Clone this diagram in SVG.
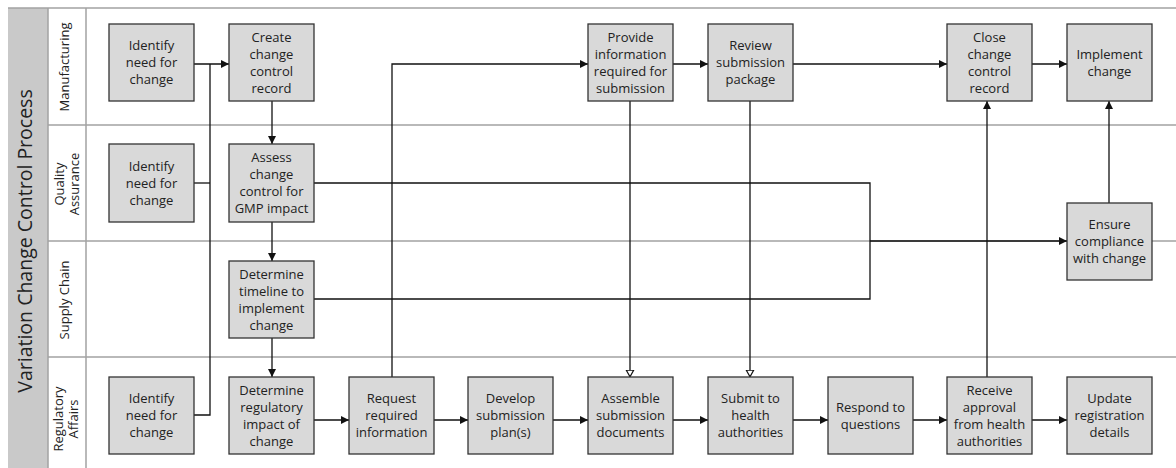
<svg xmlns="http://www.w3.org/2000/svg" width="1176" height="468" viewBox="0 0 1176 468">
<style>
.bg{fill:#ffffff}
.band{fill:#c9c9c9}
.lane{stroke:#a3a3a3;stroke-width:1.5;fill:none}
.n{fill:#d9d9d9;stroke:#333333;stroke-width:1.3}
.t{font-family:"Open Sans","Noto Sans","Liberation Sans",sans-serif;font-size:13px;fill:#222222;text-anchor:middle}
.lt{font-family:"Open Sans","Noto Sans","Liberation Sans",sans-serif;font-size:13px;fill:#222222;text-anchor:middle}
.tt{font-family:"Open Sans","Noto Sans","Liberation Sans",sans-serif;font-size:19.5px;fill:#222222;text-anchor:middle}
.c{stroke:#111111;stroke-width:1.3;fill:none}
.a{marker-end:url(#arr)}
.h{marker-end:url(#hol)}
</style>
<defs>
<marker id="arr" markerUnits="userSpaceOnUse" markerWidth="9" markerHeight="9" refX="8" refY="4.5" orient="auto">
<path d="M0,0.5 L8,4.5 L0,8.5 z" fill="#111111"/>
</marker>
<marker id="hol" markerUnits="userSpaceOnUse" markerWidth="10" markerHeight="10" refX="7.5" refY="4.5" orient="auto">
<path d="M0.7,0.8 L7.3,4.5 L0.7,8.2 z" fill="#ffffff" stroke="#111111" stroke-width="1.2"/>
</marker>
</defs>
<rect class="bg" x="0" y="0" width="1176" height="468"/>
<g id="pool">
<rect class="band" x="8" y="8" width="40" height="460"/>
<text class="tt" transform="translate(32,241) rotate(-90)">Variation Change Control Process</text>
<path class="lane" d="M8,8 H1176 M48,8 V468 M86,8 V468 M48,125 H1176 M48,241 H1176 M48,357 H1176"/>
</g>
<g id="lane-labels">
<text class="lt" transform="translate(69,67) rotate(-90)">Manufacturing</text>
<text class="lt" transform="translate(64,184) rotate(-90)">Quality</text>
<text class="lt" transform="translate(79,184) rotate(-90)">Assurance</text>
<text class="lt" transform="translate(69,300) rotate(-90)">Supply Chain</text>
<text class="lt" transform="translate(63,419) rotate(-90)">Regulatory</text>
<text class="lt" transform="translate(78,419) rotate(-90)">Affairs</text>
</g>
<g id="connectors">
<path class="c a" d="M194,64 H229"/>
<path class="c" d="M194,183 H210"/>
<path class="c" d="M194,415 H210 V64"/>
<path class="c a" d="M272,101 V144"/>
<path class="c a" d="M272,222 V261"/>
<path class="c a" d="M272,338 V377"/>
<path class="c a" d="M314,420 H349"/>
<path class="c a" d="M392,377 V64 H588"/>
<path class="c a" d="M673,64 H708"/>
<path class="c a" d="M793,64 H947"/>
<path class="c a" d="M1032,64 H1067"/>
<path class="c h" d="M630,101 V377"/>
<path class="c h" d="M750,101 V377"/>
<path class="c" d="M314,183 H870 V299 H314"/>
<path class="c a" d="M870,241 H1067"/>
<path class="c a" d="M987,377 V101"/>
<path class="c a" d="M1109,203 V101"/>
<path class="c a" d="M434,420 H468"/>
<path class="c a" d="M553,420 H588"/>
<path class="c a" d="M673,420 H708"/>
<path class="c a" d="M793,420 H828"/>
<path class="c a" d="M912,420 H947"/>
<path class="c a" d="M1032,420 H1067"/>
</g>
<g id="mfg-identify">
<rect class="n" x="109" y="24" width="85" height="77"/>
<text class="t" x="151.5" y="50"><tspan x="151.5">Identify</tspan><tspan x="151.5" dy="17">need for</tspan><tspan x="151.5" dy="17">change</tspan></text>
</g>
<g id="mfg-create">
<rect class="n" x="229" y="24" width="85" height="77"/>
<text class="t" x="271.5" y="41.5"><tspan x="271.5">Create</tspan><tspan x="271.5" dy="17">change</tspan><tspan x="271.5" dy="17">control</tspan><tspan x="271.5" dy="17">record</tspan></text>
</g>
<g id="mfg-provide">
<rect class="n" x="588" y="24" width="85" height="77"/>
<text class="t" x="630.5" y="41.5"><tspan x="630.5">Provide</tspan><tspan x="630.5" dy="17">information</tspan><tspan x="630.5" dy="17">required for</tspan><tspan x="630.5" dy="17">submission</tspan></text>
</g>
<g id="mfg-review">
<rect class="n" x="708" y="24" width="85" height="77"/>
<text class="t" x="750.5" y="50"><tspan x="750.5">Review</tspan><tspan x="750.5" dy="17">submission</tspan><tspan x="750.5" dy="17">package</tspan></text>
</g>
<g id="mfg-close">
<rect class="n" x="947" y="24" width="85" height="77"/>
<text class="t" x="989.5" y="41.5"><tspan x="989.5">Close</tspan><tspan x="989.5" dy="17">change</tspan><tspan x="989.5" dy="17">control</tspan><tspan x="989.5" dy="17">record</tspan></text>
</g>
<g id="mfg-implement">
<rect class="n" x="1067" y="24" width="85" height="77"/>
<text class="t" x="1109.5" y="58.5"><tspan x="1109.5">Implement</tspan><tspan x="1109.5" dy="17">change</tspan></text>
</g>
<g id="qa-identify">
<rect class="n" x="109" y="144" width="85" height="78"/>
<text class="t" x="151.5" y="170.5"><tspan x="151.5">Identify</tspan><tspan x="151.5" dy="17">need for</tspan><tspan x="151.5" dy="17">change</tspan></text>
</g>
<g id="qa-assess">
<rect class="n" x="229" y="144" width="85" height="78"/>
<text class="t" x="271.5" y="162"><tspan x="271.5">Assess</tspan><tspan x="271.5" dy="17">change</tspan><tspan x="271.5" dy="17">control for</tspan><tspan x="271.5" dy="17">GMP impact</tspan></text>
</g>
<g id="qa-ensure">
<rect class="n" x="1067" y="203" width="85" height="77"/>
<text class="t" x="1109.5" y="229"><tspan x="1109.5">Ensure</tspan><tspan x="1109.5" dy="17">compliance</tspan><tspan x="1109.5" dy="17">with change</tspan></text>
</g>
<g id="sc-timeline">
<rect class="n" x="229" y="261" width="85" height="77"/>
<text class="t" x="271.5" y="278.5"><tspan x="271.5">Determine</tspan><tspan x="271.5" dy="17">timeline to</tspan><tspan x="271.5" dy="17">implement</tspan><tspan x="271.5" dy="17">change</tspan></text>
</g>
<g id="ra-identify">
<rect class="n" x="109" y="377" width="85" height="77"/>
<text class="t" x="151.5" y="403"><tspan x="151.5">Identify</tspan><tspan x="151.5" dy="17">need for</tspan><tspan x="151.5" dy="17">change</tspan></text>
</g>
<g id="ra-determine">
<rect class="n" x="229" y="377" width="85" height="77"/>
<text class="t" x="271.5" y="394.5"><tspan x="271.5">Determine</tspan><tspan x="271.5" dy="17">regulatory</tspan><tspan x="271.5" dy="17">impact of</tspan><tspan x="271.5" dy="17">change</tspan></text>
</g>
<g id="ra-request">
<rect class="n" x="349" y="377" width="85" height="77"/>
<text class="t" x="391.5" y="403"><tspan x="391.5">Request</tspan><tspan x="391.5" dy="17">required</tspan><tspan x="391.5" dy="17">information</tspan></text>
</g>
<g id="ra-develop">
<rect class="n" x="468" y="377" width="85" height="77"/>
<text class="t" x="510.5" y="403"><tspan x="510.5">Develop</tspan><tspan x="510.5" dy="17">submission</tspan><tspan x="510.5" dy="17">plan(s)</tspan></text>
</g>
<g id="ra-assemble">
<rect class="n" x="588" y="377" width="85" height="77"/>
<text class="t" x="630.5" y="403"><tspan x="630.5">Assemble</tspan><tspan x="630.5" dy="17">submission</tspan><tspan x="630.5" dy="17">documents</tspan></text>
</g>
<g id="ra-submit">
<rect class="n" x="708" y="377" width="85" height="77"/>
<text class="t" x="750.5" y="403"><tspan x="750.5">Submit to</tspan><tspan x="750.5" dy="17">health</tspan><tspan x="750.5" dy="17">authorities</tspan></text>
</g>
<g id="ra-respond">
<rect class="n" x="828" y="377" width="85" height="77"/>
<text class="t" x="870.5" y="411.5"><tspan x="870.5">Respond to</tspan><tspan x="870.5" dy="17">questions</tspan></text>
</g>
<g id="ra-receive">
<rect class="n" x="947" y="377" width="85" height="77"/>
<text class="t" x="989.5" y="394.5"><tspan x="989.5">Receive</tspan><tspan x="989.5" dy="17">approval</tspan><tspan x="989.5" dy="17">from health</tspan><tspan x="989.5" dy="17">authorities</tspan></text>
</g>
<g id="ra-update">
<rect class="n" x="1067" y="377" width="85" height="77"/>
<text class="t" x="1109.5" y="403"><tspan x="1109.5">Update</tspan><tspan x="1109.5" dy="17">registration</tspan><tspan x="1109.5" dy="17">details</tspan></text>
</g>
</svg>
